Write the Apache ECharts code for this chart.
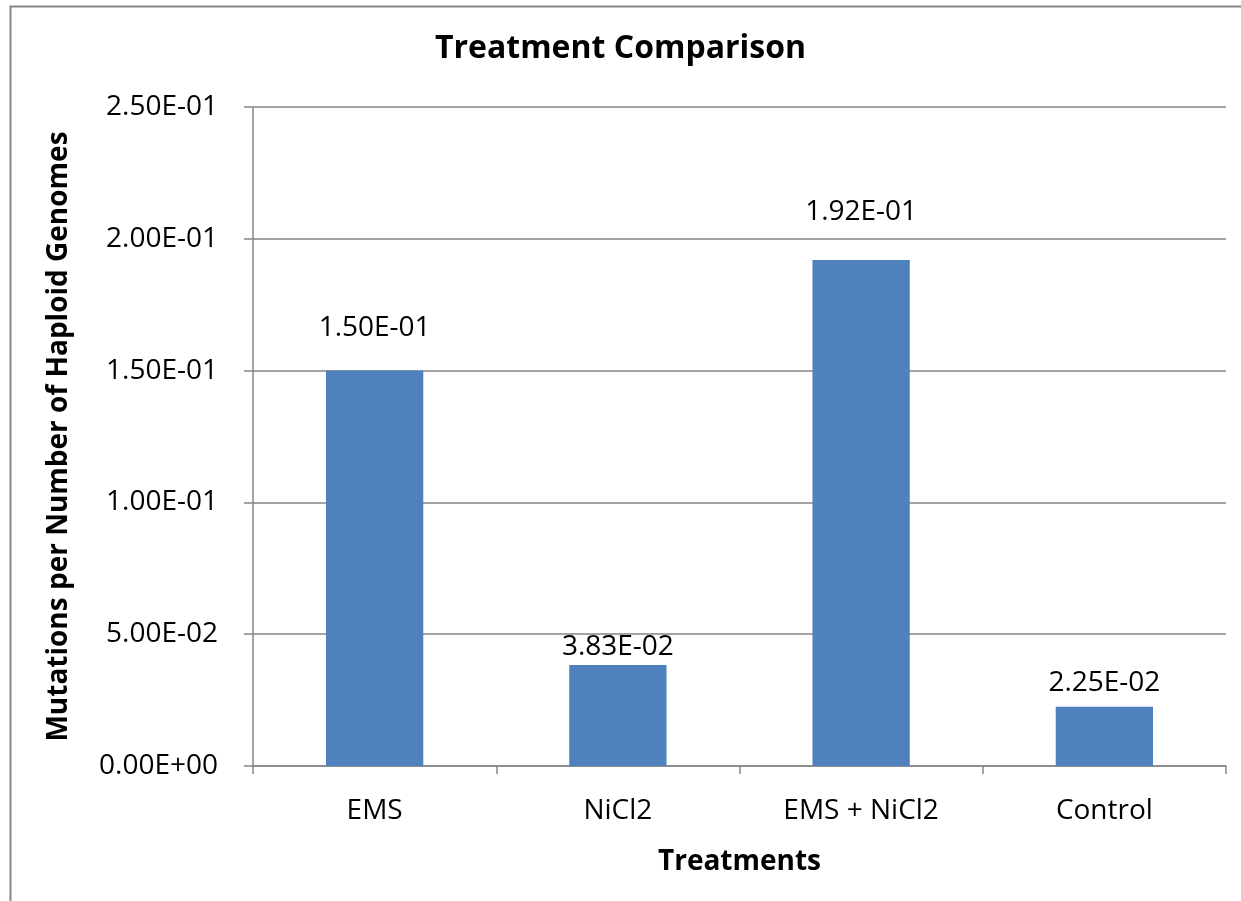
<!DOCTYPE html>
<html>
<head>
<meta charset="utf-8">
<script src="https://cdn.jsdelivr.net/npm/echarts@6/dist/echarts.min.js"></script>
<style>
  html, body { margin: 0; padding: 0; background: #fff; }
  #main { width: 1241px; height: 901px; }
</style>
</head>
<body>
<div id="main"></div>
<script>
// 数据
const categories = ["EMS", "NiCl2", "EMS + NiCl2", "Control"];
const values = [0.150, 0.0383, 0.192, 0.0225];
const labelGaps = [29, 4, 34, 10];
const yTicks = [0, 0.05, 0.10, 0.15, 0.20, 0.25];

const FONT = "'Open Sans', 'Noto Sans', sans-serif";

// Excel style 1.50E-01
function sci(v) {
	if (v === 0) return "0.00E+00";
	let e = Math.floor(Math.log10(Math.abs(v)));
	let m = v / Math.pow(10, e);
	if (Math.round(m * 100) / 100 >= 10) { m /= 10; e += 1; }
	const sign = e < 0 ? "-" : "+";
	const ee = String(Math.abs(e)).padStart(2, "0");
	return m.toFixed(2) + "E" + sign + ee;
}

let chart = echarts.init(document.getElementById("main"));

let option = {
	animation: false,
	textStyle: { fontFamily: FONT },
	title: {
		text: "Treatment Comparison",
		left: "center",
		top: 28,
		textStyle: { fontFamily: FONT, fontSize: 32, fontWeight: "bold", color: "#000" },
	},
	graphic: [
		{
			type: "rect",
			shape: { x: 10.5, y: 6.5, width: 1260, height: 920 },
			style: { fill: null, stroke: "#868686", lineWidth: 2 },
			silent: true,
		},
	],
	grid: {
		left: 253,
		right: 15,
		top: 107,
		bottom: 135,
		containLabel: false,
	},
	xAxis: {
		type: "category",
		data: categories,
		name: "Treatments",
		nameLocation: "middle",
		nameGap: 82,
		nameTextStyle: { fontFamily: FONT, fontSize: 28, fontWeight: "bold", color: "#000" },
		axisLine: { lineStyle: { color: "#868686", width: 1.5 } },
		axisTick: { show: true, length: 8, lineStyle: { color: "#868686", width: 1.5 } },
		axisLabel: { fontFamily: FONT, fontSize: 28, color: "#000", margin: 31 },
	},
	yAxis: {
		type: "value",
		min: yTicks[0],
		max: yTicks[yTicks.length - 1],
		interval: 0.05,
		name: "Mutations per Number of Haploid Genomes",
		nameLocation: "middle",
		nameGap: 180,
		nameTextStyle: { fontFamily: FONT, fontSize: 28, fontWeight: "bold", color: "#000" },
		axisLine: { show: true, lineStyle: { color: "#868686", width: 1.5 } },
		axisTick: { show: true, length: 9, lineStyle: { color: "#868686", width: 1.5 } },
		axisLabel: { fontFamily: FONT, fontSize: 28, color: "#000", margin: 35, formatter: sci },
		splitLine: { lineStyle: { color: "#868686", width: 1.5 } },
	},
	series: [
		{
			type: "bar",
			barWidth: "40%",
			itemStyle: { color: "#4f81bd" },
			data: values.map((v, i) => ({
				value: v,
				label: { distance: labelGaps[i] },
			})),
			label: {
				show: true,
				position: "top",
				fontFamily: FONT,
				fontSize: 28,
				color: "#000",
				formatter: (p) => sci(p.value),
			},
		},
	],
};

chart.setOption(option);
</script>
</body>
</html>
